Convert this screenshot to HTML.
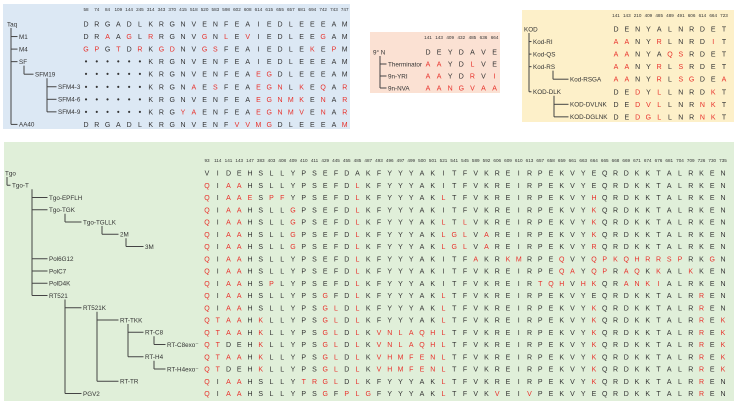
<!DOCTYPE html>
<html><head><meta charset="utf-8">
<style>
html,body{margin:0;padding:0;background:#fff;}
svg{display:block;font-family:"Liberation Sans",sans-serif;}
</style></head>
<body>
<svg id="fig" width="734" height="404" viewBox="0 0 734 404" xmlns="http://www.w3.org/2000/svg"></svg>
<script>
// ---- Data (lowercase residue = mutated, drawn in red) ----
const taqPositions = [58,74,84,109,144,245,314,343,370,415,518,520,583,598,602,608,614,615,655,657,681,694,742,743,747];
const taqNames = ["Taq","M1","M4","SF","SFM19","SFM4-3","SFM4-6","SFM4-9","AA40"];
const taqSeqs = [
 "DRGADLKRGNVENFEAIEDLEEEAM",
 "DRaAgLrRGNVgNlEvIEDLEEgAM",
 "gpGtDrKgdNVgsFEAIEDLEkEpM",
 "......KRGNVENFEAIEDLEEEAM",
 "......KRGNVENFEAegDLEEEAM",
 "......KRGNaEsFEAegnLkEqAr",
 "......KRGNVENFEAegnmkEnAr",
 "......KRGyaENFEAegnmvEnAr",
 "DRGADLKRGNVENFvvmgDLEEEAm"
];
const ninePositions = [141,143,409,432,485,636,664];
const nineNames = ["9° N","Therminator","9n-YRI","9n-NVA"];
const nineSeqs = ["DEYDAVE","aaYDlVE","aaYDrVi","aangvaa"];
const kodPositions = [141,143,210,409,485,489,491,606,614,664,723];
const kodNames = ["KOD","Kod-RI","Kod-QS","Kod-RS","Kod-RSGA","KOD-DLK","KOD-DVLNK","KOD-DGLNK"];
const kodSeqs = ["DENYALNRDET","aaNYrLNRDiT","aaNYAqsRDET","aaNYrLsRDET","aaNYrLsgDEa","DEdYlLNRDkT","DEdvlLNRnkT","DEdglLNRnkT"];
const tgoPositions = [93,114,141,143,147,383,403,408,409,410,411,429,445,455,485,487,493,496,497,499,500,501,521,541,545,589,592,606,609,610,613,657,658,659,661,663,664,665,668,669,671,674,676,681,704,709,726,730,735];
const tgoNames = ["Tgo","Tgo-T","Tgo-EPFLH","Tgo-TGK","Tgo-TGLLK","2M","3M","Pol6G12","PolC7","PolD4K","RT521","RT521K","RT-TKK","RT-C8","RT-C8exo⁻","RT-H4","RT-H4exo⁻","RT-TR","PGV2"];
const tgoSeqs = [
 "VIDEHSLLYPSEFDAKFYYYAKITFVKREIRPEKVYEQRDKKTALRKEN",
 "qIaaHSLLYPSEFDlKFYYYAKITFVKREIRPEKVYEQRDKKTALRKEN",
 "qIaaeSpfYPSEFDlKFYYYAKlTFVKREIRPEKVYhQRDKKTALRKEN",
 "qIaaHSLLgPSEFDlKFYYYAKITFVKREIRPEKVYkQRDKKTALRKEN",
 "qIaaHSLLgPSEFDlKFYYYAKlTlVKREIRPEKVYkQRDKKTALRKEN",
 "qIaaHSLLgPSEFDlKFYYYAKlglVaREIRPEKVYkQRDKKTALRKEN",
 "qIaaHSLLgPSEFDlKFYYYAKlglVaREIRPEKVYrQRDKKTALRKEN",
 "qIaaHSLLYPSEFDlKFYYYAKITFaKRkmRPEqVYqpkqhrrspRKgN",
 "qIaaHSLLYPSEFDlKFYYYAKITFVKREIRPEqaYqpRaqKkALkKEN",
 "qIaaHSpLYPSEFDlKFYYYAKITFVKREIRtqhVhkQRankiALRKEN",
 "qIaaHSLLYPSgFDlKFYYYAKlTFVKREIRPEKVYEQRDKKTALRrEN",
 "qIaaHSLLYPSglDlKFYYYAKlTFVKREIRPEKVYkQRDKKTALRrEN",
 "qtaaHkLLYPSglDlKFYYYAKlTFVKREIRPEKVYkQRDKKTALRrEk",
 "qtaaHkLLYPSglDlKvnlaqhlTFVKREIRPEKVYkQRDKKTALRrEk",
 "qtDEHkLLYPSglDlKvnlaqhlTFVKREIRPEKVYkQRDKKTALRrEk",
 "qtaaHkLLYPSglDlKvhmfenlTFVKREIRPEKVYkQRDKKTALRrEk",
 "qtDEHkLLYPSglDlKvhmfenlTFVKREIRPEKVYkQRDKKTALRrEk",
 "qIaaHSLLYtrglDlKFYYYAKlTFVKREIRPEKVYkQRDKKTALRrEN",
 "qIaaHSLLYPSgFplgFYYYAKlTFVKvEIvPEKVYEQRDKKTALRrEN"
];

const NS="http://www.w3.org/2000/svg";
const svg=document.getElementById('fig');
const RED="#e8302a", INK="#333";
function mk(tag,attrs,parent){const e=document.createElementNS(NS,tag);for(const k in attrs)e.setAttribute(k,attrs[k]);(parent||svg).appendChild(e);return e;}
function line(g,x1,y1,x2,y2){const l=mk('line',{x1,y1,x2,y2,stroke:'#444','stroke-width':1},g);

}

function panel(name,bg,box,positions,names,seqs,x0,dx,yH,y0,dy,labels,tree){
  const g=mk('g',{});
  
  
  const r=mk('rect',{x:box[0],y:box[1],width:box[2],height:box[3],fill:bg},g);
  
  
  const xs=i=>x0+dx*i, ys=j=>y0+dy*j;
  positions.forEach((p,i)=>{const t=mk('text',{x:xs(i),y:yH,'font-size':4.6,fill:INK,'text-anchor':'middle'},g);t.textContent=p;
    
    });
  seqs.forEach((s,j)=>{
    const rg=mk('g',{},g);
    
    
    [...s].forEach((c,i)=>{
      const red=c!==c.toUpperCase();
      const t=mk('text',{x:xs(i),y:ys(j)+2.5,'font-size':c==='.'?8:7,fill:red?RED:INK,'text-anchor':'middle'},rg);
      t.textContent=c==='.'?'•':c.toUpperCase();
      
      
    });
  });
  names.forEach((n,j)=>{const t=mk('text',{x:labels[j],y:ys(j)+2.3,'font-size':6.3,fill:INK},g);t.textContent=n;
    
    });
  tree.forEach(b=>{
    const [xv,from,...to]=b; const ya=ys(from)+4;
    line(g,xv,ya,xv,ys(to[to.length-1]));
    to.forEach(t=>line(g,xv,ys(t),labels[t]-1.5,ys(t)));
  });
}

panel('taq-panel','#dce8f4',[3,4,347,125],taqPositions,taqNames,taqSeqs,86,10.78,11,24,12.55,
  [7,19,19,19,35,58,58,58,19],
  [[11,0,1,2,3,8],[24,3,4],[47,4,5,6,7]]);
panel('9n-panel','#fbe1d3',[370,32,130,61],ninePositions,nineNames,nineSeqs,428,11.1,39,52,12,
  [373,388,388,388],
  [[380,0,1,2,3]]);
panel('kod-panel','#fdf0c9',[522,10,212,112],kodPositions,kodNames,kodSeqs,616,10.8,17,29,12.55,
  [524,533,533,533,570,533,570,570],
  [[529,0,1,2,3,5],[553,3,4],[554,5,6,7]]);
panel('tgo-panel','#e0efd9',[4,142,730,259],tgoPositions,tgoNames,tgoSeqs,207,10.75,162,173,12.25,
  [5,12,49,49,83,120,145,49,49,49,49,83,120,145,167,145,167,120,83],
  [[7,0,1],[32,1,2,3,7,8,9,10],[65,3,4],[102,4,5],[126,5,6],[65,10,11,18],[97,11,12,17],[128,12,13,15],[154,13,14],[154,15,16]]);
</script>
</body></html>
